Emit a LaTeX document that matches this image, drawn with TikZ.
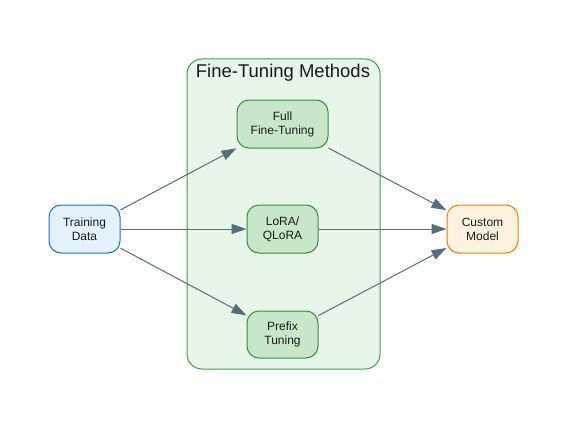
\documentclass[tikz,border=0pt]{standalone}
\usepackage{fontspec}
\setmainfont{Liberation Sans}
\usetikzlibrary{arrows.meta}
\definecolor{edgec}{HTML}{546E7A}
\definecolor{grpfill}{HTML}{E8F5E9}
\definecolor{grpdraw}{HTML}{43A047}
\definecolor{mfill}{HTML}{C8E6C9}
\definecolor{mdraw}{HTML}{388E3C}
\definecolor{bfill}{HTML}{E3F2FD}
\definecolor{bdraw}{HTML}{1E6FC2}
\definecolor{ofill}{HTML}{FFF3E0}
\definecolor{odraw}{HTML}{F57C00}
\definecolor{txt}{HTML}{1A1A1A}
\tikzset{
  box/.style={draw, line width=1pt, rounded corners=12pt, align=center, font=\fontsize{12}{14}\selectfont, text=txt, inner sep=0pt},
  method/.style={box, fill=mfill, draw=mdraw},
  inbox/.style={box, fill=bfill, draw=bdraw, minimum width=71pt, minimum height=48pt},
  outbox/.style={box, fill=ofill, draw=odraw, minimum width=71pt, minimum height=48pt},
  conn/.style={draw=edgec, line width=1pt, -{Triangle[length=15pt,width=10pt]}},
}
\begin{document}
\begin{tikzpicture}[x=1pt,y=-1pt]
\useasboundingbox[fill=white] (0,0) rectangle (567,428);
\node[draw=grpdraw, fill=grpfill, line width=1pt, rounded corners=15pt, minimum width=193pt, minimum height=310pt, inner sep=0pt] (grp) at (283.5,214) {};
\node[font=\fontsize{18.5}{21}\selectfont, text=txt] (title) at (283,73) {Fine-Tuning Methods};
\node[method, minimum width=91pt, minimum height=48pt] (full) at (282.5,124) {Full\\Fine-Tuning};
\node[method, minimum width=71pt, minimum height=48pt] (lora) at (282.5,229) {LoRA/\\QLoRA};
\node[method, minimum width=71pt, minimum height=47pt] (prefix) at (282.5,334.5) {Prefix\\Tuning};
\node[inbox] (data) at (84.5,229) {Training\\Data};
\node[outbox] (model) at (482.5,229) {Custom\\Model};
\draw[conn] (data) -- (full);
\draw[conn] (data) -- (lora);
\draw[conn] (data) -- (prefix);
\draw[conn] (full) -- (model);
\draw[conn] (lora) -- (model);
\draw[conn] (prefix) -- (model);
\end{tikzpicture}
\end{document}
